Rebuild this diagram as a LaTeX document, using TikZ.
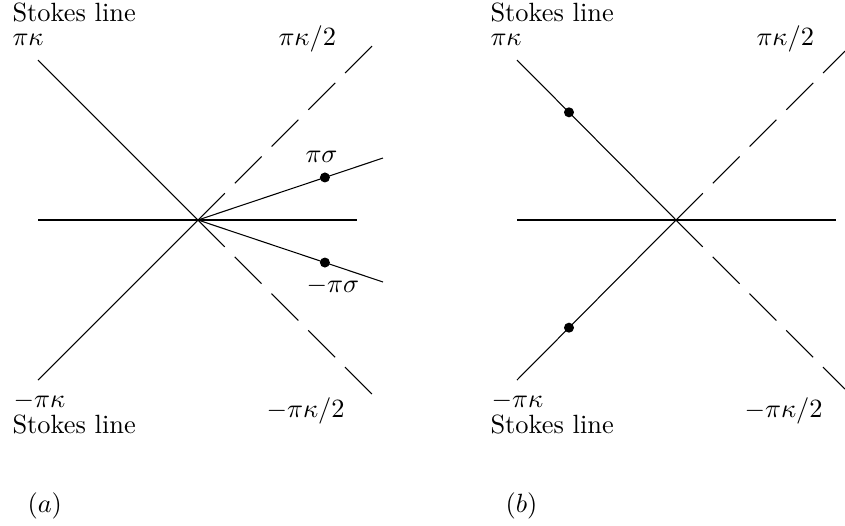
\documentclass[tikz,border=0pt]{standalone}
\usepackage{amsmath}
\usetikzlibrary{calc,positioning}
\tikzset{
  solidln/.style={line width=0.4pt},
  dashln/.style={line width=0.4pt, dash pattern=on 14.4pt off 5.3pt},
  pole/.style={circle, fill=black, inner sep=0pt, minimum size=3.8pt},
  lbl/.style={anchor=base west, inner sep=0pt},
}
\begin{document}
\begin{tikzpicture}[x=0.379pt, y=-0.379pt]
  \useasboundingbox (0,0) rectangle (845,526);

  % panel (a)
  \coordinate (ca) at (198,220);
  \coordinate (ula) at (38,60);
  \coordinate (lla) at (38,380);
  \coordinate (ura) at (373,45);
  \coordinate (lra) at (373,395);
  \coordinate (hla) at (38,220);
  \coordinate (hra) at (357,220);
  \coordinate (sua) at (383,158);
  \coordinate (sla) at (383,282);
  \draw[solidln] (hla) -- (hra);
  \draw[solidln] (ula) -- (ca) -- (lla);
  \draw[dashln] (ca) -- (ura);
  \draw[dashln] (ca) -- (lra);
  \draw[solidln] (ca) -- (sua);
  \draw[solidln] (ca) -- (sla);
  \node[pole] (pa1) at ($(ca)!0.686!(sua)$) {};
  \node[pole] (pa2) at ($(ca)!0.686!(sla)$) {};

  \node[lbl] (sta) at (12,21) {Stokes line};
  \node[lbl] (kta) at (12,45) {$\pi\kappa$};
  \node[lbl] (hta) at (278,45) {$\pi\kappa/2$};
  \node[lbl] (sga) at (305,162) {$\pi\sigma$};
  \node[lbl] (sgb) at (306,292) {$-\pi\sigma$};
  \node[lbl] (kba) at (13,407) {$-\pi\kappa$};
  \node[lbl] (sba) at (12,433) {Stokes line};
  \node[lbl] (hba) at (266,417) {$-\pi\kappa/2$};
  \node[lbl] (capa) at (27,512) {$(a)$};

  % panel (b)
  \coordinate (cb) at (676,220);
  \coordinate (ulb) at (517,60);
  \coordinate (llb) at (517,380);
  \coordinate (urb) at (845,51);
  \coordinate (lrb) at (845,389);
  \coordinate (hlb) at (517,220);
  \coordinate (hrb) at (836,220);
  \draw[solidln] (hlb) -- (hrb);
  \draw[solidln] (ulb) -- (cb) -- (llb);
  \draw[dashln] (cb) -- (urb);
  \draw[dashln] (cb) -- (lrb);
  \node[pole] (pb1) at ($(cb)!0.673!(ulb)$) {};
  \node[pole] (pb2) at ($(cb)!0.673!(llb)$) {};

  \node[lbl] (stb) at (490,21) {Stokes line};
  \node[lbl] (ktb) at (490,45) {$\pi\kappa$};
  \node[lbl] (htb) at (756,45) {$\pi\kappa/2$};
  \node[lbl] (kbb) at (491,407) {$-\pi\kappa$};
  \node[lbl] (sbb) at (490,433) {Stokes line};
  \node[lbl] (hbb) at (744,417) {$-\pi\kappa/2$};
  \node[lbl] (capb) at (505,512) {$(b)$};
\end{tikzpicture}
\end{document}
